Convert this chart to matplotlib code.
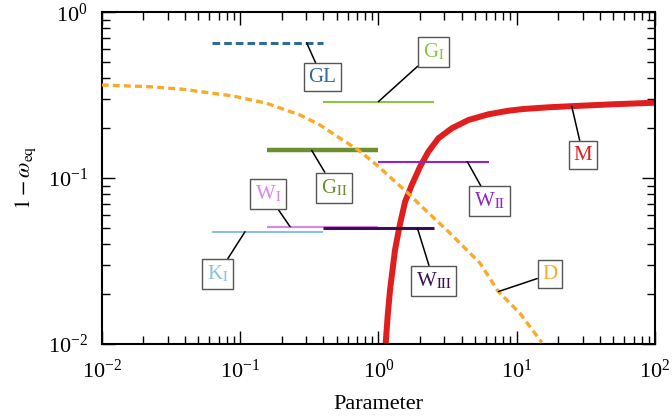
import numpy as np
import matplotlib
matplotlib.use("Agg")
import matplotlib.pyplot as plt

plt.rcParams["font.family"] = ["Liberation Serif", "DejaVu Serif"]
plt.rcParams["mathtext.fontset"] = "stix"
plt.rcParams["lines.scale_dashes"] = False

# ---- data -------------------------------------------------------------
# curve M
m_x = [1.13, 1.17, 1.215, 1.32, 1.42, 1.561, 1.744, 2.002, 2.299, 2.716,
       3.395, 4.475, 6.245, 8.71, 11.18, 17.0, 25.6, 50.0, 100.0]
m_y = [0.0101, 0.015, 0.0212, 0.0369, 0.0509, 0.0721, 0.0909, 0.1172, 0.1444,
       0.1739, 0.1998, 0.2242, 0.2427, 0.255, 0.2612, 0.2675, 0.272, 0.279,
       0.285]

# curve D
d_x = [0.01, 0.0223, 0.0389, 0.0895, 0.156, 0.2716, 0.379, 0.5285, 0.7166,
       0.9736, 1.284, 1.695, 2.002, 3.123, 5.44, 7.375, 10.58, 15.19]
d_y = [0.3645, 0.356, 0.3433, 0.3128, 0.2827, 0.2403, 0.2091, 0.1739, 0.1478,
       0.12, 0.0975, 0.0791, 0.0689, 0.0487, 0.0307, 0.0207, 0.0153, 0.0102]

# horizontal ranges: name -> (x_start, x_end, level)
seg_names = ["GL", "GI", "GII", "WI", "WII", "WIII", "KI"]
seg_x0 = [0.063, 0.398, 0.158, 0.158, 1.0, 0.398, 0.063]
seg_x1 = [0.398, 2.51, 1.0, 1.0, 6.31, 2.51, 0.398]
seg_level = [0.656, 0.289, 0.147, 0.0510, 0.1257, 0.0500, 0.0475]

labels = {
    "GL": "GL",
    "GI": r"G$_{\mathrm{I}}$",
    "GII": r"G$_{\mathrm{II}}$",
    "WI": r"W$_{\mathrm{I}}$",
    "WII": r"W$_{\mathrm{II}}$",
    "WIII": r"W$_{\mathrm{III}}$",
    "KI": r"K$_{\mathrm{I}}$",
    "M": "M",
    "D": "D",
}

# ---- styles -----------------------------------------------------------
colors = {
    "GL": "#2f6b93",
    "GI": "#8cc43f",
    "GII": "#6b8e2e",
    "WI": "#d987f0",
    "WII": "#8f24c9",
    "WIII": "#3a1250",
    "KI": "#8cc0e0",
    "M": "#e01e1e",
    "D": "#f9aa27",
}
widths = {"GL": 2.2, "GI": 1.5, "GII": 3.2, "WI": 1.5, "WII": 1.5,
          "WIII": 2.2, "KI": 1.5}

# label placement: (label x, label y, anchor x on the line)
placement = {
    "GL": (0.392, 0.4055, 0.303),
    "GI": (2.515, 0.5786, 1.0),
    "GII": (0.478, 0.0876, 0.33),
    "WI": (0.159, 0.0799, 0.23),
    "WII": (6.35, 0.0725, 4.40),
    "WIII": (2.515, 0.02405, 1.915),
    "KI": (0.0691, 0.0263, 0.1086),
    "M": (30.2, 0.1379, 25.0),
    "D": (17.38, 0.02632, 7.375),
}

fig = plt.figure(figsize=(6.72, 4.19), dpi=100)
ax = fig.add_axes([0.1513, 0.179, 0.8234, 0.7916])
ax.set_xscale("log")
ax.set_yscale("log")
ax.set_xlim(1e-2, 1e2)
ax.set_ylim(1e-2, 1e0)

ax.plot(m_x, m_y, color=colors["M"], lw=4.3, solid_capstyle="butt",
        solid_joinstyle="round", zorder=2)

for name, x0, x1, lev in zip(seg_names, seg_x0, seg_x1, seg_level):
    kw = dict(color=colors[name], lw=widths[name], solid_capstyle="butt",
              zorder=3)
    if name == "GL":
        kw.update(linestyle=(0, (5.5, 2.9)), dash_capstyle="butt")
    ax.plot([x0, x1], [lev, lev], **kw)

ax.plot(d_x, d_y, color=colors["D"], lw=2.4, linestyle=(0, (5.0, 3.0)),
        dash_capstyle="butt", zorder=4)


def curve_at(xs, ys, x):
    return 10 ** np.interp(np.log10(x), np.log10(xs), np.log10(ys))


levels = dict(zip(seg_names, seg_level))
for name, (lx, ly, ax_x) in placement.items():
    if name == "M":
        ay = curve_at(m_x, m_y, ax_x)
    elif name == "D":
        ay = curve_at(d_x, d_y, ax_x)
    else:
        ay = levels[name]
    ax.annotate(labels[name], xy=(ax_x, ay), xytext=(lx, ly),
                ha="center", va="center", fontsize=15, color=colors[name],
                bbox=dict(boxstyle="square,pad=0.22", fc="white",
                          ec="#555555", lw=1.0),
                arrowprops=dict(arrowstyle="-", color="black", lw=1.1,
                                shrinkA=0, shrinkB=0),
                zorder=6)

for s in ax.spines.values():
    s.set_linewidth(1.5)
ax.tick_params(which="both", direction="in", top=True, right=True,
               labelsize=16, width=1.0)
ax.tick_params(which="major", length=9.5)
ax.tick_params(which="minor", length=5.8)
ax.tick_params(axis="x", which="major", pad=11)
ax.tick_params(axis="y", which="major", pad=10)

ax.set_xlabel("Parameter", fontsize=16, labelpad=9)
ax.set_ylabel(r"$1-\omega_{\mathrm{eq}}$", fontsize=16, labelpad=7)

fig.savefig("out.png", dpi=100)
